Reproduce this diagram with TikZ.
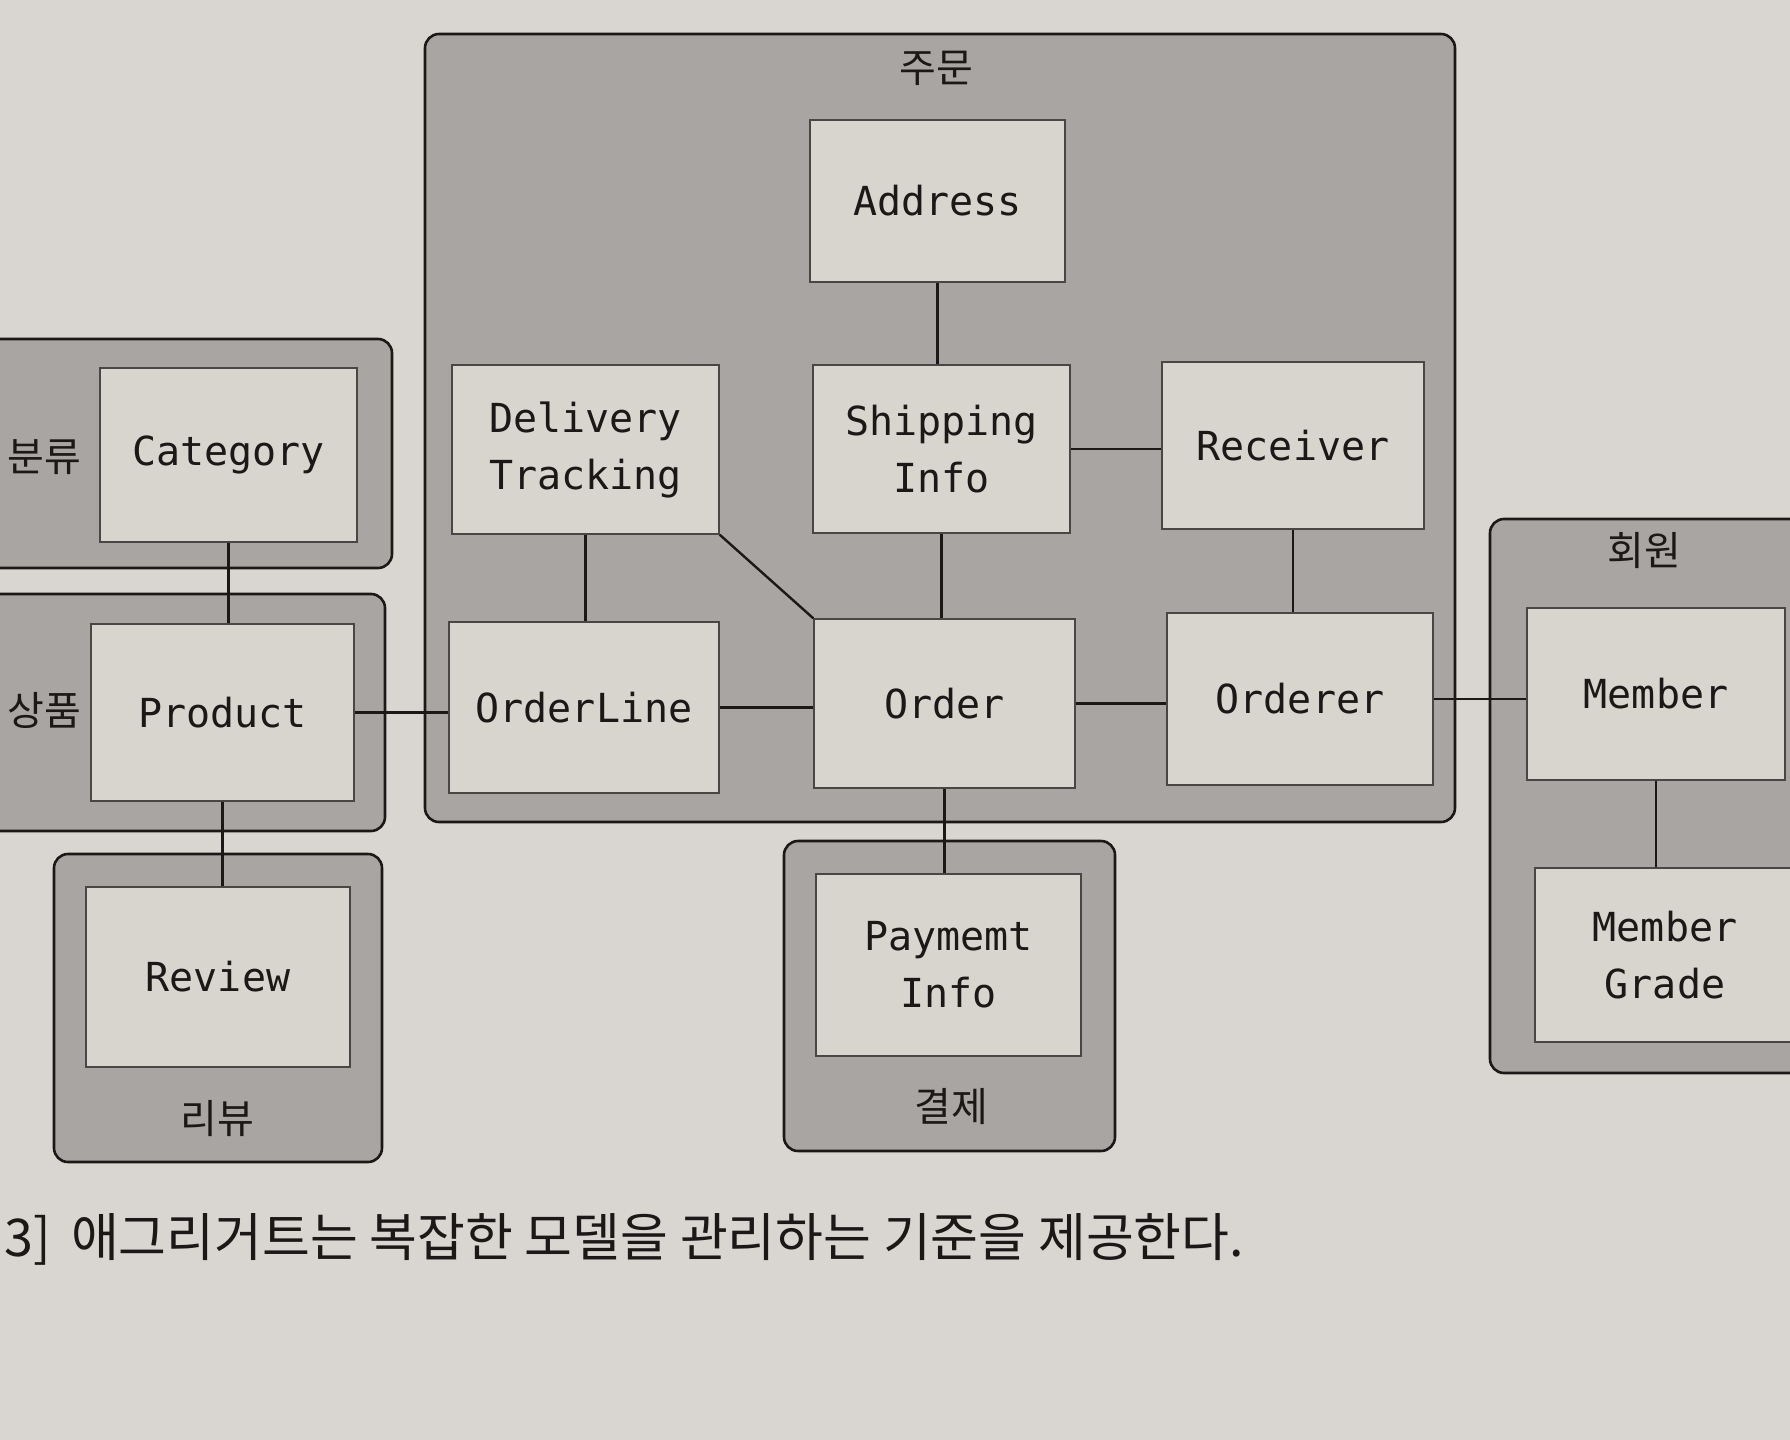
\documentclass[tikz,border=0pt]{standalone}
\usepackage{fontspec}
\newfontfamily\monof{DejaVu Sans Mono}
\newfontfamily\krf{Noto Sans CJK KR}
\definecolor{paper}{HTML}{D9D5D0}
\definecolor{grpfill}{HTML}{A8A5A2}
\definecolor{boxfill}{HTML}{D8D4CE}
\definecolor{ink}{HTML}{1C1818}
\begin{document}
\begin{tikzpicture}[x=0.5pt,y=-0.5pt,
  grp/.style={draw=ink, line width=1.3pt, fill=grpfill, rounded corners=7pt, inner sep=0pt},
  ent/.style={draw=ink!80, line width=0.7pt, fill=boxfill, inner sep=0pt, align=center,
    text=ink, font=\monof\fontsize{20}{28.5}\selectfont},
  glabel/.style={text=ink, font=\krf\fontsize{20}{24}\selectfont, inner sep=0pt},
  link/.style={draw=ink, line width=1.2pt}]
\useasboundingbox (0,0) rectangle (1790,1440);
\fill[paper] (0,0) rectangle (1790,1440);
\clip (0,0) rectangle (1790,1440);
% groups
\node[grp, minimum width=515pt, minimum height=394pt] (gorder) at (940,428) {};
\node[grp, minimum width=206pt, minimum height=114.5pt] (gcat) at (186,453.5) {};
\node[grp, minimum width=202.5pt, minimum height=118.5pt] (gprod) at (182.5,712.5) {};
\node[grp, minimum width=164pt, minimum height=154pt] (grev) at (218,1008) {};
\node[grp, minimum width=165.5pt, minimum height=155pt] (gpay) at (949.5,996) {};
\node[grp, minimum width=160pt, minimum height=277pt] (gmem) at (1650,796) {};
% group labels
\node[glabel] (lorder) at (936,68) {주문};
\node[glabel] (lcat) at (44,457) {분류};
\node[glabel] (lprod) at (44,710) {상품};
\node[glabel] (lrev) at (217,1119) {리뷰};
\node[glabel] (lpay) at (951,1107) {결제};
\node[glabel] (lmem) at (1644,551) {회원};
% entities
\node[ent, minimum width=127.5pt, minimum height=81pt] (addr) at (937.5,201) {Address};
\node[ent, minimum width=133.5pt, minimum height=84.5pt] (deliv) at (585.5,449.5) {Delivery\\Tracking};
\node[ent, minimum width=128.5pt, minimum height=84pt] (ship) at (941.5,449) {Shipping\\Info};
\node[ent, minimum width=131pt, minimum height=83.5pt] (recv) at (1293,445.5) {Receiver};
\node[ent, minimum width=135pt, minimum height=85.5pt] (ol) at (584,707.5) {OrderLine};
\node[ent, minimum width=130.5pt, minimum height=84.5pt] (order) at (944.5,703.5) {Order};
\node[ent, minimum width=133pt, minimum height=86pt] (orderer) at (1300,699) {Orderer};
\node[ent, minimum width=128.5pt, minimum height=87pt] (cat) at (228.5,455) {Category};
\node[ent, minimum width=131.5pt, minimum height=88.5pt] (prod) at (222.5,712.5) {Product};
\node[ent, minimum width=132pt, minimum height=90pt] (rev) at (218,977) {Review};
\node[ent, minimum width=132.5pt, minimum height=91pt] (pay) at (948.5,965) {Paymemt\\Info};
\node[ent, minimum width=129pt, minimum height=86pt] (mem) at (1656,694) {Member};
\node[ent, minimum width=130pt, minimum height=87pt] (mg) at (1665,955) {Member\\Grade};
% links
\draw[link] (addr.south) -- (addr.south |- ship.north);
\draw[link] (ship.east) -- (ship.east -| recv.west);
\draw[link] (deliv.south) -- (deliv.south |- ol.north);
\draw[link] (deliv.south east) -- (order.north west);
\draw[link] (ship.south) -- (ship.south |- order.north);
\draw[link] (recv.south) -- (recv.south |- orderer.north);
\draw[link] (ol.east) -- (ol.east -| order.west);
\draw[link] (order.east) -- (order.east -| orderer.west);
\draw[link] (orderer.east) -- (orderer.east -| mem.west);
\draw[link] (prod.east) -- (prod.east -| ol.west);
\draw[link] (cat.south) -- (cat.south |- prod.north);
\draw[link] (prod.south) -- (prod.south |- rev.north);
\draw[link] (order.south) -- (order.south |- pay.north);
\draw[link] (mem.south) -- (mem.south |- mg.north);
% caption
\node[anchor=west, text=ink, inner sep=0pt, font=\krf\fontsize{26}{30}\selectfont] (cap) at (4,1239) {3]\, 애그리거트는 복잡한 모델을 관리하는 기준을 제공한다.};
\end{tikzpicture}
\end{document}
